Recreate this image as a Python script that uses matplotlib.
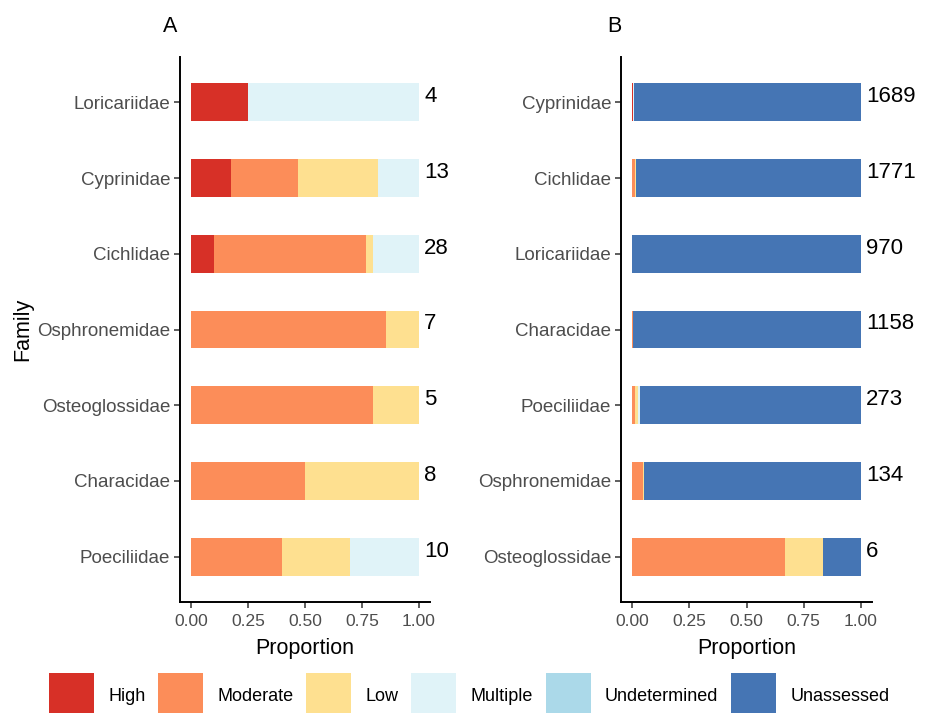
import numpy as np
import matplotlib
matplotlib.use("Agg")
import matplotlib.pyplot as plt
from matplotlib.patches import Patch

plt.rcParams['font.family'] = ['Liberation Sans', 'DejaVu Sans']

levels = ["High", "Moderate", "Low", "Multiple", "Undetermined", "Unassessed"]
colors = ["#D73027", "#FC8D59", "#FEE090", "#E0F3F8", "#ABD9E9", "#4575B4"]

# Panel A: families listed top to bottom, with number of records
families_a = ["Loricariidae", "Cyprinidae", "Cichlidae", "Osphronemidae",
              "Osteoglossidae", "Characidae", "Poeciliidae"]
counts_a = [4, 13, 28, 7, 5, 8, 10]
high_a = [0.25, 0.176, 0.10, 0.0, 0.0, 0.0, 0.0]
moderate_a = [0.0, 0.294, 0.667, 0.857, 0.80, 0.50, 0.40]
low_a = [0.0, 0.353, 0.033, 0.143, 0.20, 0.50, 0.30]
multiple_a = [0.75, 0.177, 0.20, 0.0, 0.0, 0.0, 0.30]
undetermined_a = [0.0] * 7
unassessed_a = [0.0] * 7

# Panel B: families listed top to bottom, with number of species
families_b = ["Cyprinidae", "Cichlidae", "Loricariidae", "Characidae",
              "Poeciliidae", "Osphronemidae", "Osteoglossidae"]
counts_b = [1689, 1771, 970, 1158, 273, 134, 6]
high_b = [0.004, 0.0, 0.0, 0.0, 0.0, 0.0, 0.0]
moderate_b = [0.0, 0.012, 0.0, 0.004, 0.011, 0.045, 0.667]
low_b = [0.0, 0.002, 0.0, 0.0, 0.015, 0.007, 0.167]
multiple_b = [0.002, 0.003, 0.0, 0.0, 0.007, 0.0, 0.0]
undetermined_b = [0.0] * 7
unassessed_b = [0.994, 0.983, 1.0, 0.996, 0.967, 0.948, 0.166]

W, H = 930, 713
fig = plt.figure(figsize=(W / 100, H / 100), dpi=100)


def px_axes(x0, x1, y0, y1):
    return fig.add_axes([x0 / W, 1 - y1 / H, (x1 - x0) / W, (y1 - y0) / H])


def draw_panel(ax, fams, counts, series):
    n = len(fams)
    ypos = np.arange(n)[::-1]
    left = np.zeros(n)
    for vals, col in zip(series, colors):
        vals = np.asarray(vals, dtype=float)
        ax.barh(ypos, vals, left=left, height=0.5, color=col, linewidth=0)
        left += vals
    for y, tot, c in zip(ypos, left, counts):
        ax.annotate(str(c), (tot, y), xytext=(4, 4), textcoords="offset points",
                    ha="left", va="center", fontsize=16, color="black",
                    annotation_clip=False)
    ax.set_xlim(-0.05, 1.05)
    ax.set_ylim(-0.6, n - 0.4)
    ax.set_yticks(ypos)
    ax.set_yticklabels(fams)
    ax.set_xticks([0, 0.25, 0.5, 0.75, 1.0])
    ax.set_xticklabels(["0.00", "0.25", "0.50", "0.75", "1.00"])
    for s in ["top", "right"]:
        ax.spines[s].set_visible(False)
    for s in ["left", "bottom"]:
        ax.spines[s].set_linewidth(1.4)
        ax.spines[s].set_color("black")
    ax.tick_params(axis="y", labelsize=13.5, labelcolor="#4D4D4D", color="#333333",
                   length=4, width=1.1, pad=3)
    ax.tick_params(axis="x", labelsize=12.5, labelcolor="#4D4D4D", color="#333333",
                   length=4, width=1.1, pad=5)
    ax.set_xlabel("Proportion", fontsize=15.5, labelpad=6)


ax_a = px_axes(180, 430, 57, 602)
draw_panel(ax_a, families_a, counts_a,
           [high_a, moderate_a, low_a, multiple_a, undetermined_a, unassessed_a])
ax_a.set_ylabel("Family", fontsize=15.5, labelpad=3)

ax_b = px_axes(621, 872, 57, 602)
draw_panel(ax_b, families_b, counts_b,
           [high_b, moderate_b, low_b, multiple_b, undetermined_b, unassessed_b])

fig.text(163 / W, 1 - 27 / H, "A", fontsize=15.5, ha="left", va="center")
fig.text(607 / W, 1 - 27 / H, "B", fontsize=15.5, ha="left", va="center")

handles = [Patch(facecolor=c, edgecolor="none", label=l) for c, l in zip(colors, levels)]
fs = 13
fpx = fs * 100 / 72
fig.legend(handles=handles, loc="upper left", bbox_to_anchor=(49 / W, 1 - 673 / H),
           ncol=6, frameon=False, fontsize=fs, handlelength=45 / fpx,
           handleheight=3.6, handletextpad=14 / fpx, columnspacing=13 / fpx,
           borderpad=0, borderaxespad=0)

fig.savefig("out.png", dpi=100)
